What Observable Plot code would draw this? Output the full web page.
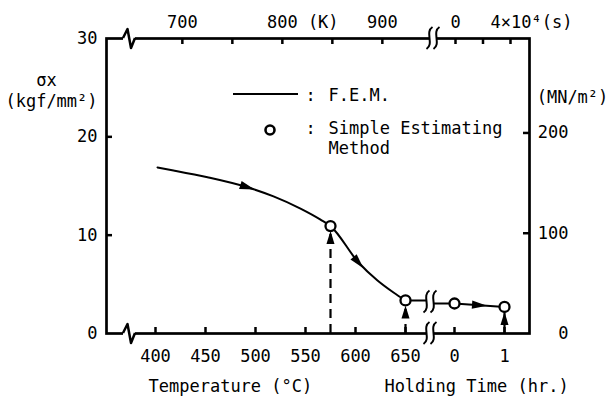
<!DOCTYPE html>
<html><head><meta charset="utf-8">
<script src="https://cdn.jsdelivr.net/npm/d3@7"></script>
<script src="https://cdn.jsdelivr.net/npm/@observablehq/plot@0.6"></script>
<style>body{margin:0;background:#fff}</style>
</head><body><div id="chart"></div>
<script>
// ---- data ----
const temperatures = [402, 418, 452, 492, 518, 545, 565, 575, 603, 622, 638, 650];   // °C
const sigmaFEM     = [16.88, 16.58, 15.89, 14.87, 13.94, 12.7, 11.58, 10.92, 7.22, 5.39, 4.17, 3.36]; // kgf/mm²
const holdTimes    = [0, 1];          // hr
const sigmaHold    = [3.05, 2.7];     // kgf/mm²
const estTemps     = [575, 650];
const estTempSigma = [10.92, 3.36];
const estHoldTimes = [0, 1];
const estHoldSigma = [3.05, 2.7];
const flowArrowTemps = [492, 603];
const flowArrowTempSigma = [14.87, 7.22];
const flowArrowHold = [0.5];
const flowArrowHoldSigma = [2.88];
const flowArrowAngles = [108, 139, 94];
const upArrowTemps = [575, 650];
const upArrowHold = [1];

// ---- ticks ----
const sigmaTicks = [0, 10, 20, 30];
const sigmaInnerTicks = [10, 20];
const mnTicks = [0, 100, 200];
const mnInnerTicks = [100, 200];
const tempTicks = [400, 450, 500, 550, 600, 650];
const holdTicks = [0, 1];
const kelvinTicks = [700, 750, 800, 850, 900];
const kelvinLabelValues = [700, 800, 900];
const kelvinLabelTexts = ["700", "800 (K)", "900"];
const secondTicks = [0, 20000, 40000];
const KGF_PER_MN = 1 / 9.80665;

// ---- broken-axis layout (x units) ----
const HOLD_ORIGIN = 699, HOLD_UNIT = 50;
const SEC_ORIGIN = 700, SEC_UNIT = 55 / 40000;
const LEFT_BREAK = 374, BREAK_AXIS = 675, BREAK_TOP = 678;
const uT = t => t;
const uH = h => HOLD_ORIGIN + h * HOLD_UNIT;
const uK = k => k - 273.15;
const uS = s => SEC_ORIGIN + s * SEC_UNIT;

const FONT = "'DejaVu Sans Mono', monospace";
const W = 611, H = 399, ML = 106, MR = 82, MT = 38, MB = 66;
const innerW = W - ML - MR, innerH = H - MT - MB;

const femPts = temperatures.map((t, i) => ({u: uT(t), s: sigmaFEM[i]}));
const holdPts = holdTimes.map((h, i) => ({u: uH(h), s: sigmaHold[i]}));
const connPts = [
  {u: uT(650), s: estTempSigma[1], k: "a"}, {u: BREAK_AXIS - 3, s: estTempSigma[1], k: "a"},
  {u: BREAK_AXIS + 4, s: sigmaHold[0], k: "b"}, {u: uH(0), s: sigmaHold[0], k: "b"}
];
const estPts = [
  ...estTemps.map((t, i) => ({u: uT(t), s: estTempSigma[i]})),
  ...estHoldTimes.map((h, i) => ({u: uH(h), s: estHoldSigma[i]}))
];
const flowPts = [
  ...flowArrowTemps.map((t, i) => ({u: uT(t), s: flowArrowTempSigma[i]})),
  ...flowArrowHold.map((h, i) => ({u: uH(h), s: flowArrowHoldSigma[i]}))
].map((d, i) => ({...d, rot: flowArrowAngles[i]}));
const upPts = [
  ...upArrowTemps.map(t => ({u: uT(t), s: estTempSigma[estTemps.indexOf(t)]})),
  ...upArrowHold.map(h => ({u: uH(h), s: estHoldSigma[estHoldTimes.indexOf(h)]}))
];

const arrowSymbol = {draw(ctx, size) {
  const r = Math.sqrt(size / Math.PI);
  ctx.moveTo(0, -r); ctx.lineTo(0.55 * r, r); ctx.lineTo(-0.55 * r, r); ctx.closePath();
}};
const upArrowSymbol = {draw(ctx, size) {
  const r = Math.sqrt(size / Math.PI);
  ctx.moveTo(0, 0); ctx.lineTo(0.62 * r, 2 * r); ctx.lineTo(-0.62 * r, 2 * r); ctx.closePath();
}};

function breaksMark(index, scales, values, dims) {
  const X = scales.x, Y = scales.y;
  const g = d3.create("svg:g").attr("fill", "none").attr("stroke", "black");
  const top = dims.marginTop, bottom = dims.height - dims.marginBottom;
  for (const y of [top, bottom]) {
    const x = X(LEFT_BREAK);
    g.append("rect").attr("x", x - 6).attr("y", y - 2.5).attr("width", 12).attr("height", 5)
      .attr("fill", "white").attr("stroke", "none");
    g.append("polyline").attr("points", [[x - 6, y], [x - 1.5, y - 9], [x + 2, y + 10], [x + 6, y]].join(" "))
      .attr("stroke-width", 2.5).attr("stroke-linejoin", "round");
  }
  const dbl = (x, y) => {
    g.append("rect").attr("x", x - 3.5).attr("y", y - 3).attr("width", 7).attr("height", 6)
      .attr("fill", "white").attr("stroke", "none");
    for (const o of [-3.5, 3.5]) {
      g.append("path").attr("d", `M${x + o - 3},${y + 11} C${x + o + 5},${y + 6} ${x + o - 5},${y - 6} ${x + o + 3},${y - 11}`)
        .attr("stroke-width", 2);
    }
  };
  dbl(X(BREAK_AXIS), bottom);
  dbl(X(BREAK_TOP), top);
  dbl(X(BREAK_AXIS), Y((estTempSigma[1] + sigmaHold[0]) / 2));
  return g.node();
}

function legendMark(index, scales, values, dims) {
  const g = d3.create("svg:g").attr("stroke", "black");
  const x0 = dims.marginLeft, y0 = dims.marginTop;
  g.append("line").attr("x1", x0 + 127).attr("x2", x0 + 192).attr("y1", y0 + 56).attr("y2", y0 + 56).attr("stroke-width", 2);
  g.append("circle").attr("cx", x0 + 164).attr("cy", y0 + 92).attr("r", 4.5).attr("fill", "white").attr("stroke-width", 2.6);
  return g.node();
}

const txt = {fontFamily: FONT, fontSize: 17, fill: "black", lineAnchor: "middle"};

const chart = Plot.plot({
  width: W, height: H, marginLeft: ML, marginRight: MR, marginTop: MT, marginBottom: MB,
  x: {type: "linear", domain: [351, 774], axis: null},
  y: {type: "linear", domain: [0, 30], axis: null},
  style: {fontFamily: FONT, fontSize: "17px", background: "white", color: "black"},
  marks: [
    // inner ticks
    Plot.tickY(sigmaInnerTicks, {y: d => d, insetRight: innerW - 6, stroke: "black", strokeWidth: 2.5}),
    Plot.tickY(mnInnerTicks, {y: d => d * KGF_PER_MN, insetLeft: innerW - 6, stroke: "black", strokeWidth: 2.5}),
    Plot.tickX([...tempTicks.map(uT), ...holdTicks.map(uH)], {x: d => d, insetTop: innerH - 6, stroke: "black", strokeWidth: 2.5}),
    Plot.tickX([...kelvinTicks.map(uK), ...secondTicks.map(uS)], {x: d => d, insetBottom: innerH - 6, stroke: "black", strokeWidth: 2.5}),
    Plot.frame({stroke: "black", strokeWidth: 2.7}),
    // dashed guides to the estimated points
    Plot.ruleX(upPts, {x: "u", y1: 0, y2: "s", stroke: "black", strokeWidth: 2.2, strokeDasharray: "9,6"}),
    // F.E.M. curve
    Plot.line(femPts, {x: "u", y: "s", curve: "monotone-x", stroke: "black", strokeWidth: 2}),
    Plot.line(connPts, {x: "u", y: "s", z: "k", stroke: "black", strokeWidth: 2}),
    Plot.line(holdPts, {x: "u", y: "s", stroke: "black", strokeWidth: 2}),
    breaksMark,
    Plot.dot(flowPts, {x: "u", y: "s", r: 7.5, symbol: arrowSymbol, rotate: "rot", fill: "black", stroke: "none"}),
    Plot.dot(upPts, {x: "u", y: "s", r: 6.5, dy: 5, symbol: upArrowSymbol, fill: "black", stroke: "none"}),
    Plot.dot(estPts, {x: "u", y: "s", r: 5, fill: "white", stroke: "black", strokeWidth: 2.3}),
    // axis labels
    Plot.text(sigmaTicks, {...txt, y: d => d, text: d => String(d), frameAnchor: "left", dx: -9, textAnchor: "end"}),
    Plot.text(mnTicks, {...txt, y: d => d * KGF_PER_MN, text: d => String(d), frameAnchor: "right", dx: 39, textAnchor: "end"}),
    Plot.text(tempTicks, {...txt, x: uT, text: d => String(d), frameAnchor: "bottom", dy: 23, textAnchor: "middle"}),
    Plot.text(holdTicks, {...txt, x: uH, text: d => String(d), frameAnchor: "bottom", dy: 23, textAnchor: "middle"}),
    Plot.text(kelvinLabelValues.map((v, i) => ({v, t: kelvinLabelTexts[i]})), {...txt, x: d => uK(d.v), text: "t", frameAnchor: "top", dy: -15.5, dx: -15.4, textAnchor: "start"}),
    Plot.text([0], {...txt, x: uS, text: () => "0", frameAnchor: "top", dy: -15.5, textAnchor: "middle"}),
    Plot.text([40000], {...txt, x: uS, text: () => "4×10⁴(s)", frameAnchor: "top", dy: -15.5, dx: -20, textAnchor: "start"}),
    Plot.text(["Temperature (°C)"], {...txt, x: () => uT(400), text: d => d, frameAnchor: "bottom", dy: 53, dx: -7, textAnchor: "start"}),
    Plot.text(["Holding Time (hr.)"], {...txt, x: () => uH(0.5), text: d => d, frameAnchor: "bottom", dy: 53, dx: -3, textAnchor: "middle"}),
    Plot.text(["σx"], {...txt, text: d => d, frameAnchor: "top-left", dx: -60, dy: 42.5, textAnchor: "middle"}),
    Plot.text(["(kgf/mm²)"], {...txt, text: d => d, frameAnchor: "top-left", dx: -55, dy: 63, textAnchor: "middle"}),
    Plot.text(["(MN/m²)"], {...txt, text: d => d, frameAnchor: "top-right", dx: 43, dy: 59.5, textAnchor: "middle"}),
    // legend
    legendMark,
    Plot.text([":"], {...txt, text: d => d, frameAnchor: "top-left", dx: 204, dy: 57, textAnchor: "middle"}),
    Plot.text([":"], {...txt, text: d => d, frameAnchor: "top-left", dx: 204, dy: 90, textAnchor: "middle"}),
    Plot.text(["F.E.M."], {...txt, text: d => d, frameAnchor: "top-left", dx: 222, dy: 57, textAnchor: "start"}),
    Plot.text(["Simple Estimating"], {...txt, text: d => d, frameAnchor: "top-left", dx: 222, dy: 90, textAnchor: "start"}),
    Plot.text(["Method"], {...txt, text: d => d, frameAnchor: "top-left", dx: 222, dy: 110, textAnchor: "start"})
  ]
});
document.getElementById("chart").append(chart);
</script>
</body></html>
